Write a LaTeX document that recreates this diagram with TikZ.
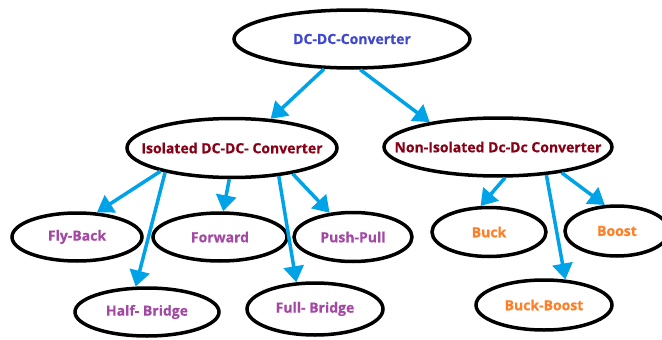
\documentclass[tikz,border=0pt]{standalone}
\usepackage{fontspec}
\setmainfont{Open Sans}[FakeBold=0.5]
\usetikzlibrary{arrows.meta,shapes.geometric}

\definecolor{indigo}{RGB}{63,72,204}
\definecolor{darkred}{RGB}{136,0,21}
\definecolor{paintpurple}{RGB}{163,73,164}
\definecolor{paintorange}{RGB}{255,127,39}
\definecolor{turquoise}{RGB}{0,162,232}

% zero-width label, so the ellipse keeps its minimum size
\newcommand{\lbl}[1]{\makebox[0pt]{#1}}

\tikzset{
	blob/.style={draw, ellipse, line width=3.5pt, inner sep=0pt, font=\bfseries\fontsize{14}{16}\selectfont},
	link/.style={draw=turquoise, line width=3.5pt, -{Triangle[length=16pt,width=20pt]}}
}

\begin{document}
\begin{tikzpicture}[x=1pt,y=-1pt]

	\useasboundingbox (0,0) rectangle (662,340);

	\node[blob, minimum width=236, minimum height=58, text=indigo] (top) at (352,39) {\lbl{DC-DC-Converter}};
	\node[blob, minimum width=210, minimum height=59, text=darkred] (iso) at (232,148) {\lbl{Isolated DC-DC- Converter}};
	\node[blob, minimum width=228, minimum height=58, text=darkred] (noniso) at (498,147) {\lbl{Non-Isolated Dc-Dc Converter}};

	\node[blob, minimum width=130, minimum height=48, text=paintpurple] (flyback) at (77,237) {\lbl{Fly-Back}};
	\node[blob, minimum width=134, minimum height=48, text=paintpurple] (forward) at (220,237) {\lbl{Forward}};
	\node[blob, minimum width=118, minimum height=49, text=paintpurple] (pushpull) at (353,237) {\lbl{Push-Pull}};
	\node[blob, minimum width=144, minimum height=48, text=paintpurple] (halfbridge) at (147,312) {\lbl{Half- Bridge}};
	\node[blob, minimum width=136, minimum height=52, text=paintpurple] (fullbridge) at (315,309) {\lbl{Full- Bridge}};

	\node[blob, minimum width=114, minimum height=49, text=paintorange] (buck) at (489,232) {\lbl{Buck}};
	\node[blob, minimum width=104, minimum height=50, text=paintorange] (boost) at (617,231) {\lbl{Boost}};
	\node[blob, minimum width=136, minimum height=50, text=paintorange] (buckboost) at (544,305) {\lbl{Buck-Boost}};

	\foreach \i / \a / \j / \b in {
	top/227/iso/37,
	top/285/noniso/160,
	iso/198/flyback/51,
	iso/200/halfbridge/114,
	iso/265/forward/83,
	iso/329/fullbridge/125,
	iso/337/pushpull/134,
	noniso/283/buck/108,
	noniso/330/buckboost/50,
	noniso/338/boost/115}
	{
		\path[link] (\i.\a) -- (\j.\b);
	};
\end{tikzpicture}
\end{document}
